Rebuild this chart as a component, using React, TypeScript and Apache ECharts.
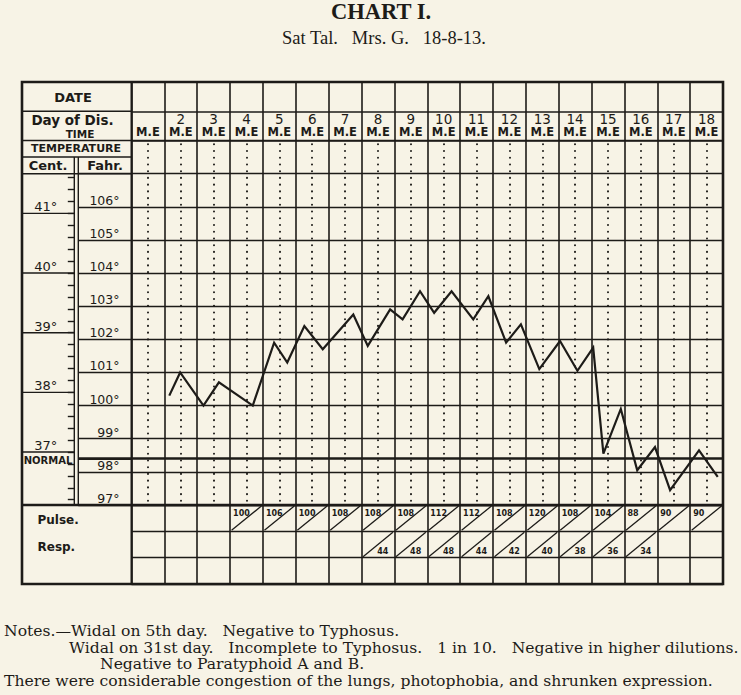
import React, { useEffect, useRef } from 'react';
import * as echarts from 'echarts';

// ---------------- data ----------------
const days = [1, 2, 3, 4, 5, 6, 7, 8, 9, 10, 11, 12, 13, 14, 15, 16, 17, 18];
const dayNumbers = ['', '2', '3', '4', '5', '6', '7', '8', '9', '10', '11', '12', '13', '14', '15', '16', '17', '18'];

// position of each reading along the day axis (day d spans d..d+1, M then E)
const readingDay = [2.15, 2.48, 3.19, 3.66, 4.69, 5.34, 5.74, 6.26, 6.82, 7.75, 8.19, 8.87, 9.25, 9.78, 10.21, 10.74, 11.4, 11.86, 12.4, 12.85, 13.41, 14.04, 14.57, 15.05, 15.36, 15.89, 16.39, 16.93, 17.39, 18.27, 18.84];
// temperature in degrees Fahrenheit
const tempF = [100.3, 101.0, 100.0, 100.7, 100.0, 101.9, 101.3, 102.4, 101.7, 102.75, 101.8, 102.9, 102.6, 103.45, 102.8, 103.45, 102.6, 103.3, 101.9, 102.45, 101.1, 101.95, 101.05, 101.75, 98.55, 99.9, 98.05, 98.75, 97.45, 98.65, 97.85];

const fahrMin = 97;
const fahrMax = 108;
const fahrLabelMax = 106;
const centLabels = [37, 38, 39, 40, 41];
const centTickStep = 0.2;
const normalTemp = 98.4;

const pulseDays = [4, 5, 6, 7, 8, 9, 10, 11, 12, 13, 14, 15, 16, 17, 18];
const pulseValues = [100, 106, 100, 108, 108, 108, 112, 112, 108, 120, 108, 104, 88, 90, 90];
const respDays = [8, 9, 10, 11, 12, 13, 14, 15, 16];
const respValues = [44, 48, 48, 44, 42, 40, 38, 36, 34];

const titleText = 'CHART I.';
const subtitleText = 'Sat Tal.   Mrs. G.   18-8-13.';
const noteLines = [
  'Notes.\u2014Widal on 5th day.   Negative to Typhosus.',
  'Widal on 31st day.   Incomplete to Typhosus.   1 in 10.   Negative in higher dilutions.',
  'Negative to Paratyphoid A and B.',
  'There were considerable congestion of the lungs, photophobia, and shrunken expression.',
];

// ---------------- style & layout ----------------
const INK = '#1d1b18';
const PAPER = '#f7f3e6';
const SANS = 'DejaVu Sans';
const SERIF = 'Liberation Serif';
const NOTE_SERIF = 'DejaVu Serif';

const W = 741;
const H = 695;
const TL = 22;
const TR = 723;
const TT = 82;
const TB = 584;
const X0 = 131.5;
const TEMP_TOP = 140.5;
const TEMP_BOT = 505;
const Y_TEMP_LABEL = 157;
const DEG_PX = (TEMP_BOT - TEMP_TOP) / (fahrMax - fahrMin);
const Y107 = TEMP_TOP + DEG_PX;
const Y_DATE = TT + (TEMP_TOP - TT) / 2;
const CENT_R = 74.3;
const FAHR_L = 78.3;

const fToC = (f: number) => (f - 32) / 1.8;
const centMin = fToC(fahrMin);
const centMax = fToC(fahrMax - 1);
const centTicks: number[] = [];
for (let i = Math.ceil(centMin / centTickStep); i * centTickStep <= centMax; i++) {
  centTicks.push(Math.round(i * centTickStep * 10) / 10);
}

const line = (x1: number, y1: number, x2: number, y2: number, w = 1.5) => ({
  type: 'line',
  silent: true,
  shape: { x1, y1, x2, y2 },
  style: { stroke: INK, lineWidth: w },
});

const text = (
  t: string,
  x: number,
  y: number,
  size: number,
  opts: { align?: string; weight?: string; family?: string } = {}
) => ({
  type: 'text',
  silent: true,
  x,
  y,
  style: {
    text: t,
    fill: INK,
    fontSize: size,
    fontWeight: opts.weight || 'normal',
    fontFamily: opts.family || SANS,
    align: opts.align || 'center',
    textAlign: opts.align || 'center',
    verticalAlign: 'middle',
    textVerticalAlign: 'middle',
  },
});

const hiddenX = (gridIndex: number) => ({
  type: 'value',
  gridIndex,
  min: 0,
  max: 1,
  show: false,
});

const dayX = (gridIndex: number, minor: boolean) => ({
  type: 'value',
  gridIndex,
  min: 1,
  max: 19,
  interval: 1,
  axisLine: { show: false },
  axisTick: { show: false },
  axisLabel: { show: false },
  splitLine: { show: true, lineStyle: { color: INK, width: 1.6 } },
  minorTick: { show: false, splitNumber: 2 },
  minorSplitLine: {
    show: minor,
    lineStyle: { color: INK, width: 2, type: [0.1, DEG_PX / 5], cap: 'round', dashOffset: DEG_PX / 10 },
  },
});

export default function App() {
  const ref = useRef<HTMLDivElement>(null);

  useEffect(() => {
    if (!ref.current) return;
    const chart = echarts.init(ref.current, null, { renderer: 'svg' });

    const option: any = {
      animation: false,
      backgroundColor: PAPER,
      grid: [
        { left: X0, top: TT, width: TR - X0, height: TEMP_TOP - TT, outerBoundsMode: 'none' },
        { left: X0, top: TEMP_TOP, width: TR - X0, height: TEMP_BOT - TEMP_TOP, outerBoundsMode: 'none' },
        { left: FAHR_L, top: Y107, width: X0 - FAHR_L, height: TEMP_BOT - Y107, outerBoundsMode: 'none' },
        { left: TL, top: Y107, width: CENT_R - TL, height: TEMP_BOT - Y107, outerBoundsMode: 'none' },
        { left: X0, top: TEMP_BOT, width: TR - X0, height: TB - TEMP_BOT, outerBoundsMode: 'none' },
      ],
      xAxis: [dayX(0, false), dayX(1, true), hiddenX(2), hiddenX(3), dayX(4, false)],
      yAxis: [
        {
          type: 'value', gridIndex: 0, min: 0, max: 2, interval: 1,
          axisLine: { show: false }, axisTick: { show: false }, axisLabel: { show: false },
          splitLine: { show: true, lineStyle: { color: INK, width: 1.5 } },
        },
        {
          type: 'value', gridIndex: 1, min: fahrMin, max: fahrMax, interval: 1,
          axisLine: { show: false, onZero: false }, axisTick: { show: false },
          axisLabel: {
            show: true, margin: 12, color: INK, fontFamily: SANS, fontSize: 12.5,
            verticalAlign: 'bottom',
            formatter: (v: number) => (v > fahrLabelMax ? '' : `${v}°`),
          },
          splitLine: { show: true, lineStyle: { color: INK, width: 1.4 } },
        },
        {
          type: 'value', gridIndex: 2, min: fahrMin, max: fahrMax - 1, interval: 1,
          axisLine: { show: false, onZero: false }, axisTick: { show: false }, axisLabel: { show: false },
          splitLine: { show: true, lineStyle: { color: INK, width: 1.4 } },
        },
        {
          type: 'value', gridIndex: 3, min: centMin, max: centMax, position: 'right',
          axisLine: { show: false, onZero: false },
          axisTick: { show: true, inside: true, length: 6.5, customValues: centTicks, lineStyle: { color: INK, width: 1.4 } },
          axisLabel: {
            show: true, inside: true, margin: 17, customValues: centLabels, color: INK,
            fontFamily: SANS, fontSize: 13, verticalAlign: 'bottom',
            formatter: (v: number) => `${Math.round(v)}°`,
          },
          splitLine: { show: false },
        },
        {
          type: 'value', gridIndex: 4, min: 0, max: 3, interval: 1,
          axisLine: { show: false }, axisTick: { show: false }, axisLabel: { show: false },
          splitLine: { show: true, lineStyle: { color: INK, width: 1.4 } },
        },
      ],
      series: [
        {
          type: 'line',
          name: 'Temperature',
          xAxisIndex: 1,
          yAxisIndex: 1,
          data: readingDay.map((d, i) => [d, tempF[i]]),
          symbol: 'none',
          lineStyle: { color: INK, width: 2.2, join: 'miter' },
          z: 5,
          markLine: {
            silent: true,
            symbol: ['none', 'none'],
            label: { show: false },
            lineStyle: { color: INK, width: 2.6, type: 'solid' },
            data: [{ yAxis: normalTemp }],
          },
        },
        {
          type: 'custom',
          name: 'Header',
          xAxisIndex: 0,
          yAxisIndex: 0,
          data: days.map((d) => [d, 0]),
          renderItem: (params: any, api: any) => {
            const d = api.value(0);
            const top = api.coord([d + 0.5, 1]);
            const bot = api.coord([d + 0.5, 0]);
            return {
              type: 'group',
              children: [
                {
                  type: 'text', x: top[0], y: top[1] + 7.5,
                  style: {
                    text: dayNumbers[params.dataIndex], fill: INK, fontSize: 13.5, fontFamily: SANS,
                    align: 'center', textAlign: 'center', verticalAlign: 'middle', textVerticalAlign: 'middle',
                  },
                },
                {
                  type: 'text', x: bot[0], y: bot[1] - 8.3,
                  style: {
                    text: 'M.E', fill: INK, fontSize: 11.5, fontWeight: 'bold', fontFamily: SANS,
                    align: 'center', textAlign: 'center', verticalAlign: 'middle', textVerticalAlign: 'middle',
                  },
                },
              ],
            };
          },
        },
        {
          type: 'custom',
          name: 'Normal (Fahr column)',
          xAxisIndex: 2,
          yAxisIndex: 2,
          data: [[0, normalTemp]],
          renderItem: (params: any, api: any) => {
            const p0 = api.coord([0, api.value(1)]);
            const p1 = api.coord([1, api.value(1)]);
            return { type: 'line', shape: { x1: p0[0], y1: p0[1], x2: p1[0], y2: p1[1] }, style: { stroke: INK, lineWidth: 2.6 } };
          },
        },
        {
          type: 'custom',
          name: 'Centigrade lines',
          xAxisIndex: 3,
          yAxisIndex: 3,
          data: centLabels.map((c) => [0, c]),
          renderItem: (params: any, api: any) => {
            const p0 = api.coord([0, api.value(1)]);
            const p1 = api.coord([1, api.value(1)]);
            return { type: 'line', shape: { x1: p0[0], y1: p0[1], x2: p1[0], y2: p1[1] }, style: { stroke: INK, lineWidth: 1.4 } };
          },
        },
        {
          type: 'custom',
          name: 'Pulse',
          xAxisIndex: 4,
          yAxisIndex: 4,
          data: pulseDays.map((d, i) => [d, 3, pulseValues[i]]),
          renderItem: (params: any, api: any) => {
            const d = api.value(0);
            const row = api.value(1);
            const bl = api.coord([d, row - 1]);
            const tr = api.coord([d + 1, row]);
            return {
              type: 'group',
              children: [
                { type: 'line', shape: { x1: bl[0] + 1.5, y1: bl[1] - 1, x2: tr[0] - 1.5, y2: tr[1] + 1 }, style: { stroke: INK, lineWidth: 1.3 } },
                {
                  type: 'text', x: bl[0] + 3, y: tr[1] + 4,
                  style: {
                    text: String(api.value(2)), fill: INK, fontSize: 8, fontWeight: 'bold', fontFamily: SANS,
                    align: 'left', textAlign: 'left', verticalAlign: 'top', textVerticalAlign: 'top',
                  },
                },
              ],
            };
          },
        },
        {
          type: 'custom',
          name: 'Resp',
          xAxisIndex: 4,
          yAxisIndex: 4,
          data: respDays.map((d, i) => [d, 2, respValues[i]]),
          renderItem: (params: any, api: any) => {
            const d = api.value(0);
            const row = api.value(1);
            const bl = api.coord([d, row - 1]);
            const tr = api.coord([d + 1, row]);
            return {
              type: 'group',
              children: [
                { type: 'line', shape: { x1: bl[0] + 1.5, y1: bl[1] - 1, x2: tr[0] - 1.5, y2: tr[1] + 1 }, style: { stroke: INK, lineWidth: 1.3 } },
                {
                  type: 'text', x: tr[0] - 6, y: bl[1] - 2.5,
                  style: {
                    text: String(api.value(2)), fill: INK, fontSize: 8, fontWeight: 'bold', fontFamily: SANS,
                    align: 'right', textAlign: 'right', verticalAlign: 'bottom', textVerticalAlign: 'bottom',
                  },
                },
              ],
            };
          },
        },
      ],
      graphic: {
        elements: [
          {
            type: 'rect', silent: true,
            shape: { x: TL, y: TT, width: TR - TL, height: TB - TT },
            style: { fill: 'none', stroke: INK, lineWidth: 2.6 },
          },
          line(X0, TT, X0, TB, 2),
          line(TL, Y_DATE, X0, Y_DATE, 1.5),
          line(TL, TEMP_TOP, X0, TEMP_TOP, 1.5),
          line(TL, Y_TEMP_LABEL, X0, Y_TEMP_LABEL, 1.5),
          line(TL, Y107, X0, Y107, 1.5),
          line(TL, TEMP_BOT, TR, TEMP_BOT, 2.4),
          line(CENT_R, Y_TEMP_LABEL, CENT_R, TEMP_BOT, 1.4),
          line(FAHR_L, Y_TEMP_LABEL, FAHR_L, TEMP_BOT, 1.4),
          text('DATE', 73, 97, 13, { weight: 'bold' }),
          text('Day of Dis.', 72.5, 120, 13.5, { weight: 'bold' }),
          text('TIME', 80, 133.8, 10.5, { weight: 'bold' }),
          text('TEMPERATURE', 76, 148.5, 11, { weight: 'bold' }),
          text('Cent.', 48, 165.5, 13, { weight: 'bold' }),
          text('Fahr.', 105, 165.5, 13, { weight: 'bold' }),
          text('NORMAL', 48, 460, 10, { weight: 'bold' }),
          text('Pulse.', 37.5, 520, 12, { weight: 'bold', align: 'left' }),
          text('Resp.', 37.5, 546.5, 12, { weight: 'bold', align: 'left' }),
          text(titleText, 381, 11, 22.5, { weight: 'bold', family: SERIF }),
          text(subtitleText, 384, 37.5, 18.5, { family: SERIF }),
          text(noteLines[0], 4, 630.5, 15.6, { family: NOTE_SERIF, align: 'left' }),
          text(noteLines[1], 69, 647.5, 15.6, { family: NOTE_SERIF, align: 'left' }),
          text(noteLines[2], 100, 664, 15.6, { family: NOTE_SERIF, align: 'left' }),
          text(noteLines[3], 4, 681, 15.6, { family: NOTE_SERIF, align: 'left' }),
        ],
      },
    };

    chart.setOption(option);
    return () => chart.dispose();
  }, []);

  return <div ref={ref} style={{ position: 'fixed', left: 0, top: 0, width: W, height: H }} />;
}
